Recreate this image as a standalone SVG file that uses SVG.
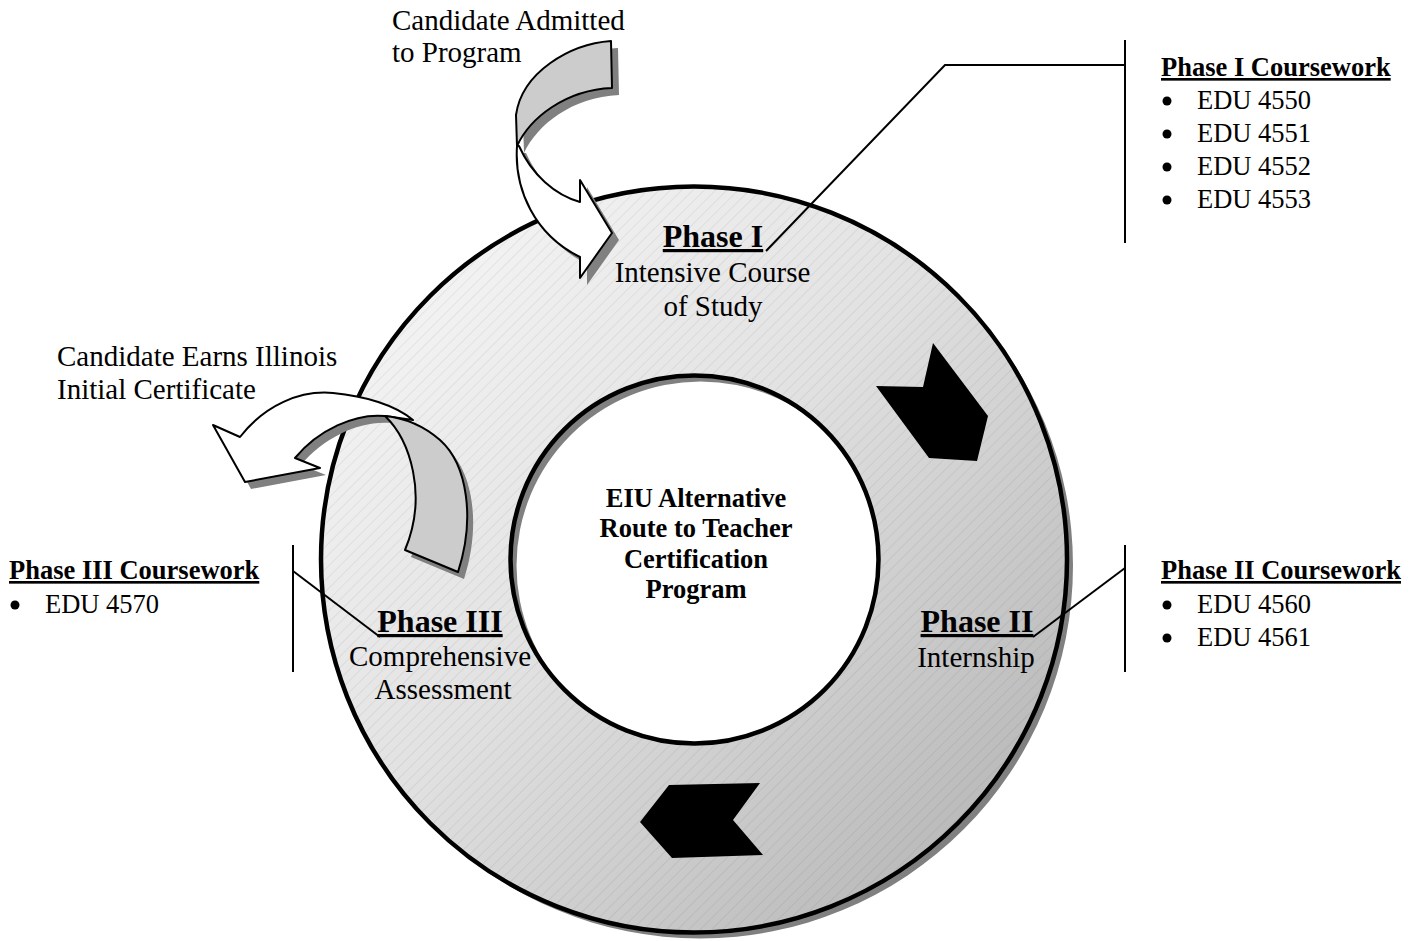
<svg xmlns="http://www.w3.org/2000/svg" width="1422" height="941" viewBox="0 0 1422 941">
<defs>
<linearGradient id="ringGrad" x1="0" y1="0" x2="1" y2="1">
<stop offset="0" stop-color="#fafafa"/>
<stop offset="0.45" stop-color="#e2e2e2"/>
<stop offset="1" stop-color="#adadad"/>
</linearGradient>
<pattern id="hatch" width="8" height="8" patternUnits="userSpaceOnUse" patternTransform="rotate(45)">
<line x1="0" y1="0" x2="0" y2="8" stroke="#000" stroke-opacity="0.13" stroke-width="0.9"/>
</pattern>
<path id="ringShape" fill-rule="evenodd" d="M321,559.5 A373,373 0 1,0 1067,559.5 A373,373 0 1,0 321,559.5 Z M510.5,559.5 A184,184 0 1,0 878.5,559.5 A184,184 0 1,0 510.5,559.5 Z"/>
<path id="admitGray" d="M611,41 C570,44 522,72 516,115 L517,146 C530,118 565,90 612,88 Z"/>
<path id="admitWhite" d="M517,146 C514,190 535,235 580,257 L580,278 L612,233 L580,180 L580,202 C555,195 532,175 519,146 Z"/>
<path id="earnWhite" d="M385,416 C355,413 318,430 295,458 L320,468 L245,482 L213,425 L240,437 C265,405 300,390 333,393 C365,396 395,405 413,420 Z"/>
<path id="earnGray" d="M385,416 C410,440 428,495 405,550 L458,572 C475,520 468,465 440,440 C425,427 405,418 385,416 Z"/>
</defs>
<style>
.serif{font-family:"Liberation Serif","Times New Roman",serif;fill:#000}
.lbl{font-size:29px}
.ph{font-size:32px;font-weight:bold;text-decoration:underline}
.ctr{font-size:26.5px;font-weight:bold}
.cw{font-size:26.5px}
.cwh{font-size:26.5px;font-weight:bold;text-decoration:underline}
.shadow{fill:#808080;stroke:none}
.ln{stroke:#000;stroke-width:2;fill:none}
.arr{stroke:#000;stroke-width:2;stroke-linejoin:round}
.bul{fill:#000}
</style>
<rect width="1422" height="941" fill="#fff"/>

<g id="ring">
<use href="#ringShape" class="shadow" transform="translate(6,6)"/>
<use href="#ringShape" fill="url(#ringGrad)"/>
<use href="#ringShape" fill="url(#hatch)"/>
<use href="#ringShape" fill="none" stroke="#000" stroke-width="4.5"/>
</g>

<g id="chevrons">
<polygon points="933,343 988,416 977,461 929,458 876,386 923,387" fill="#000"/>
<polygon points="640,822 669,785 760,783 733,820 763,855 672,858" fill="#000"/>
</g>

<g id="center" class="serif ctr" text-anchor="middle">
<text x="696" y="507">EIU Alternative</text>
<text x="696" y="537">Route to Teacher</text>
<text x="696" y="568">Certification</text>
<text x="696" y="598">Program</text>
</g>

<g id="phase1" class="serif" text-anchor="middle">
<text class="ph" x="713" y="247">Phase I</text>
<text class="lbl" x="712.5" y="282">Intensive Course</text>
<text class="lbl" x="713" y="316">of Study</text>
</g>
<g id="phase2" class="serif" text-anchor="middle">
<text class="ph" x="977" y="632">Phase II</text>
<text class="lbl" x="976" y="667">Internship</text>
</g>
<g id="phase3" class="serif" text-anchor="middle">
<text class="ph" x="440" y="632">Phase III</text>
<text class="lbl" x="440" y="666">Comprehensive</text>
<text class="lbl" x="443" y="699">Assessment</text>
</g>

<g id="connectors">
<polyline class="ln" points="766,251 945,65 1125,65"/>
<line class="ln" x1="1125" y1="40" x2="1125" y2="243"/>
<line class="ln" x1="1033" y1="637" x2="1125" y2="568"/>
<line class="ln" x1="1125" y1="545" x2="1125" y2="672"/>
<line class="ln" x1="380" y1="637" x2="293" y2="571"/>
<line class="ln" x1="293" y1="545" x2="293" y2="672"/>
</g>

<g id="admit-arrow">
<use href="#admitGray" class="shadow" transform="translate(7,7)"/>
<use href="#admitWhite" class="shadow" transform="translate(7,7)"/>
<use href="#admitGray" class="arr" fill="#cccccc"/>
<use href="#admitWhite" class="arr" fill="#ffffff"/>
</g>
<g id="admit-label" class="serif lbl">
<text x="392" y="30">Candidate Admitted</text>
<text x="392" y="62">to Program</text>
</g>

<g id="earn-arrow">
<use href="#earnWhite" class="shadow" transform="translate(6,7)"/>
<use href="#earnGray" class="shadow" transform="translate(6,7)"/>
<use href="#earnWhite" class="arr" fill="#ffffff"/>
<use href="#earnGray" class="arr" fill="#cccccc"/>
</g>
<g id="earn-label" class="serif lbl">
<text x="57" y="366">Candidate Earns Illinois</text>
<text x="57" y="399">Initial Certificate</text>
</g>

<g id="phase1-coursework" class="serif">
<text class="cwh" x="1161" y="76">Phase I Coursework</text>
<circle class="bul" cx="1167" cy="101" r="4.5"/><text class="cw" x="1197" y="109">EDU 4550</text>
<circle class="bul" cx="1167" cy="134" r="4.5"/><text class="cw" x="1197" y="142">EDU 4551</text>
<circle class="bul" cx="1167" cy="167" r="4.5"/><text class="cw" x="1197" y="175">EDU 4552</text>
<circle class="bul" cx="1167" cy="200" r="4.5"/><text class="cw" x="1197" y="208">EDU 4553</text>
</g>
<g id="phase2-coursework" class="serif">
<text class="cwh" x="1161" y="579">Phase II Coursework</text>
<circle class="bul" cx="1167" cy="605" r="4.5"/><text class="cw" x="1197" y="613">EDU 4560</text>
<circle class="bul" cx="1167" cy="638" r="4.5"/><text class="cw" x="1197" y="646">EDU 4561</text>
</g>
<g id="phase3-coursework" class="serif">
<text class="cwh" x="9" y="579">Phase III Coursework</text>
<circle class="bul" cx="15" cy="605" r="4.5"/><text class="cw" x="45" y="613">EDU 4570</text>
</g>
</svg>
